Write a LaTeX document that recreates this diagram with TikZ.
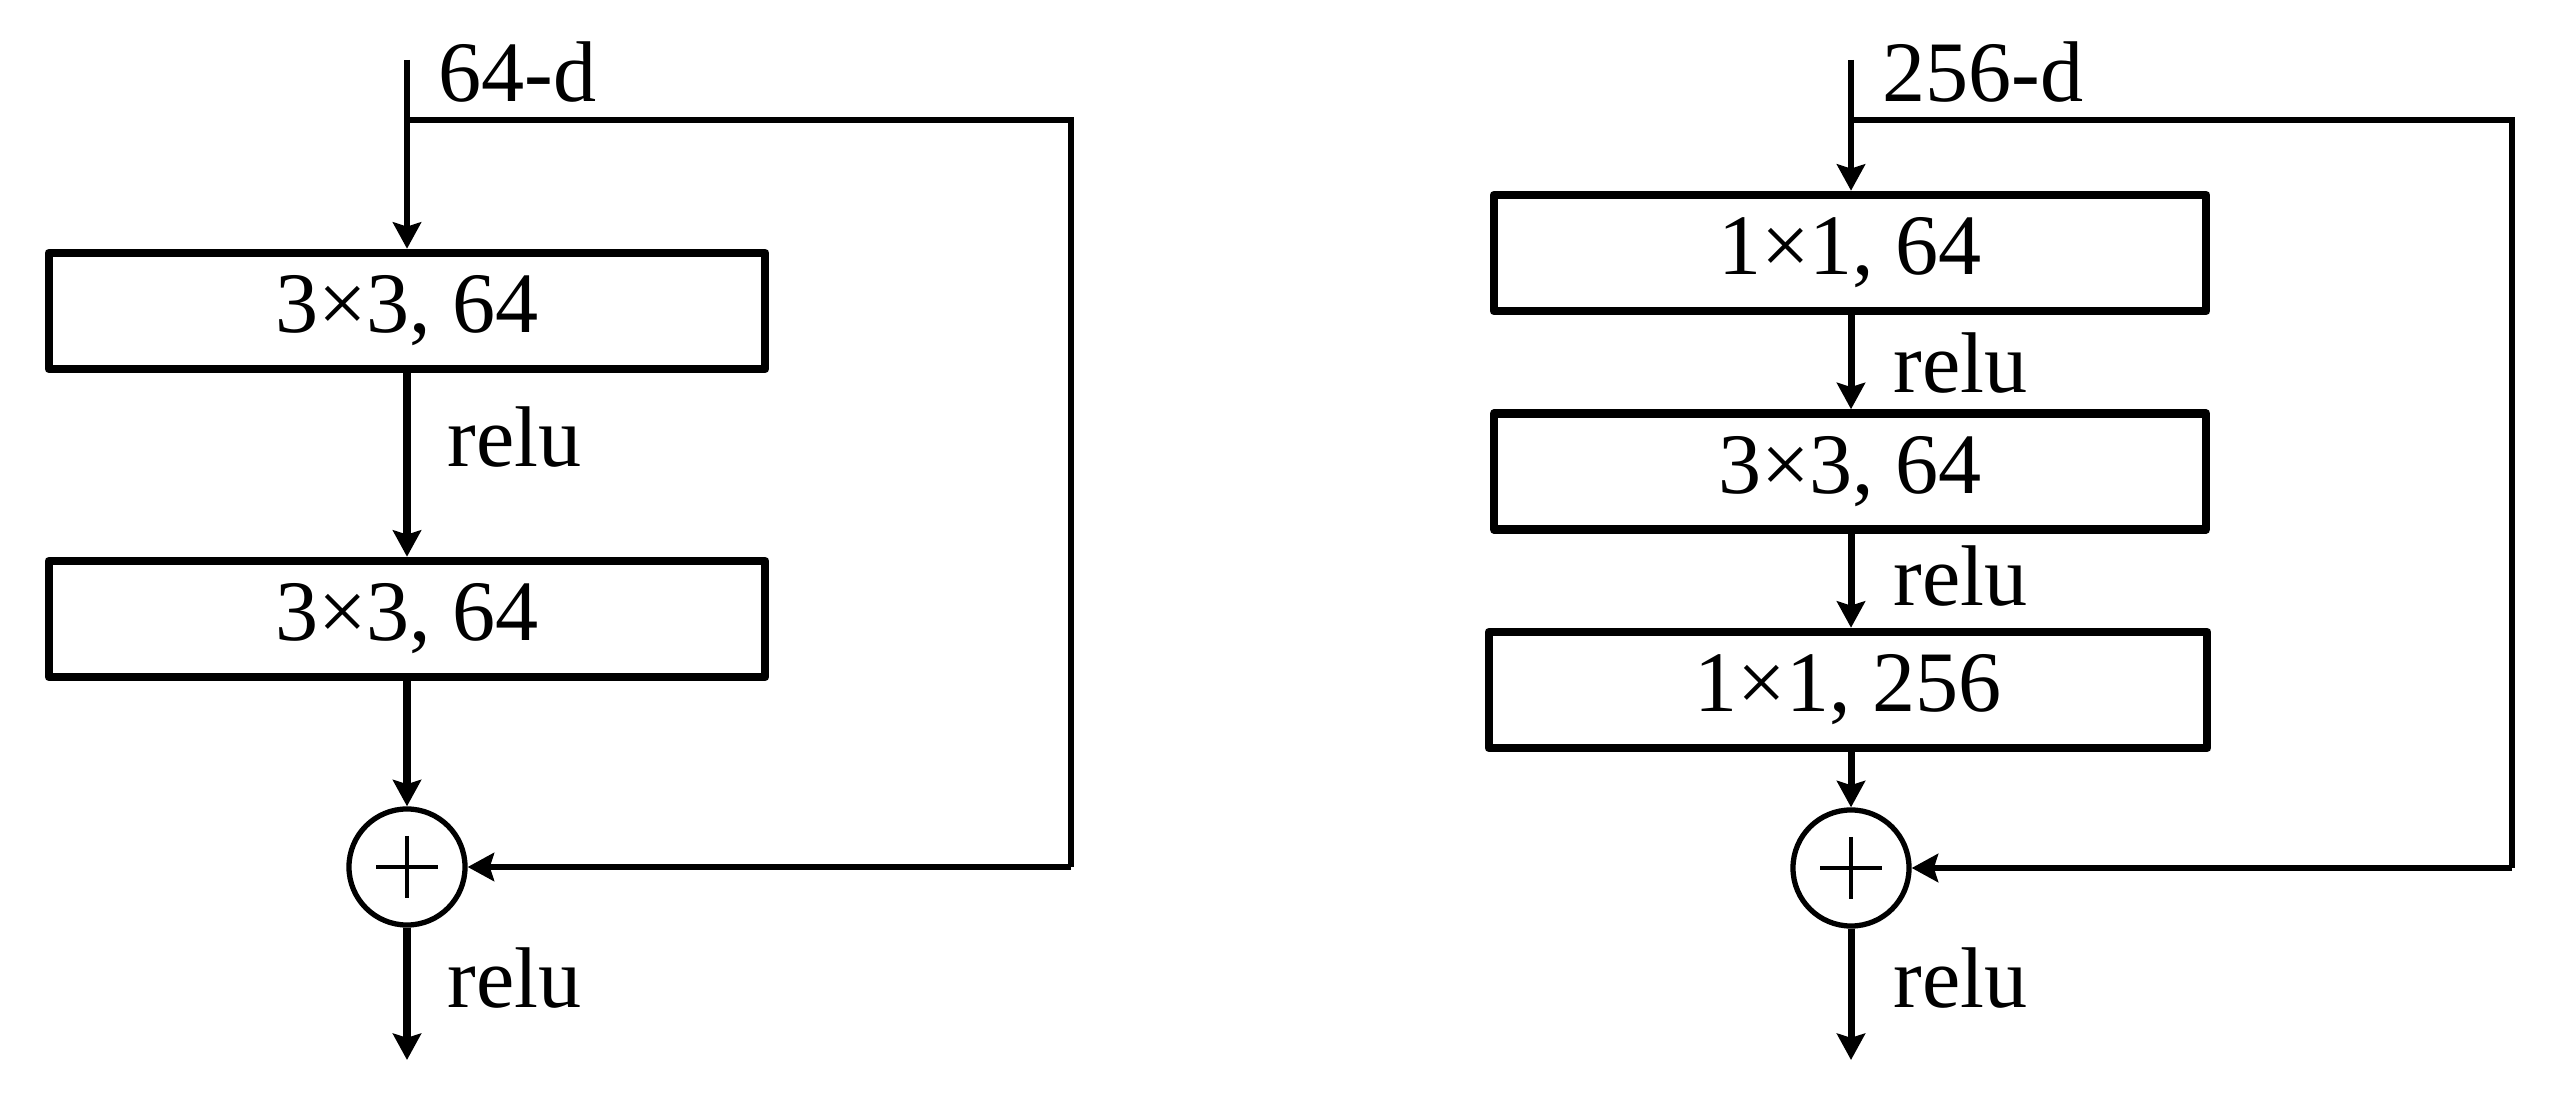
\documentclass[tikz,border=0pt]{standalone}
\usepackage{fontspec}
\setmainfont{Liberation Serif}
\usetikzlibrary{arrows.meta}
\begin{document}
\begin{tikzpicture}[x=0.01cm,y=-0.01cm,
  font=\fontsize{24.5}{29}\selectfont,
  layer/.style={draw,line width=2.4pt,line join=round,rectangle,inner sep=0pt,minimum height=1.16cm},
  sumnode/.style={draw,line width=1.5pt,circle,inner sep=0pt,minimum size=1.16cm},
  flow/.style={line width=2pt,-{Stealth[length=7.5pt,width=8pt,inset=1.2pt]}},
  skip/.style={line width=1.7pt,line join=miter,-{Stealth[length=7.5pt,width=8pt,inset=1.2pt]}},
  lbl/.style={anchor=base west,inner sep=0pt}]
\useasboundingbox (0,0) rectangle (2576,1104);
% ---------- left block ----------
\coordinate (inL) at (407,60);
\coordinate (skL) at (407,120);
\coordinate (trL) at (1071,120);
\coordinate (brL) at (1071,867);
\coordinate (outL) at (407,1060);
\node[layer,minimum width=7.16cm] (l1) at (407,311) {3×3, 64};
\node[layer,minimum width=7.16cm] (l2) at (407,619) {3×3, 64};
\node[sumnode] (sL) at (407,867) {};
\draw[line width=1pt] (sL.center) ++(-31,0) -- ++(62,0);
\draw[line width=1pt] (sL.center) ++(0,-31) -- ++(0,62);
\draw[skip] (inL) -- (l1);
\draw[skip,-] (skL) -- (trL) -- (brL);
\draw[skip] (brL) -- (sL);
\draw[flow] (l1) -- (l2);
\draw[flow] (l2) -- (sL);
\draw[flow] (sL) -- (outL);
\node[lbl] (tL) at (438,102) {64-d};
\node[lbl] (r1L) at (447,467) {relu};
\node[lbl] (r2L) at (447,1007) {relu};
% ---------- right block ----------
\coordinate (inR) at (1851,60);
\coordinate (skR) at (1851,120);
\coordinate (trR) at (2512,120);
\coordinate (brR) at (2512,868);
\coordinate (outR) at (1851,1060);
\node[layer,minimum width=7.12cm] (m1) at (1850,253) {1×1, 64};
\node[layer,minimum width=7.12cm] (m2) at (1850,471.5) {3×3, 64};
\node[layer,minimum width=7.18cm] (m3) at (1848,690) {1×1, 256};
\node[sumnode] (sR) at (1851,868) {};
\draw[line width=1pt] (sR.center) ++(-31,0) -- ++(62,0);
\draw[line width=1pt] (sR.center) ++(0,-31) -- ++(0,62);
\draw[skip] (inR) -- (inR |- m1.north);
\draw[skip,-] (skR) -- (trR) -- (brR);
\draw[skip] (brR) -- (sR);
\draw[flow] (m1.south -| inR) -- (m2.north -| inR);
\draw[flow] (m2.south -| inR) -- (m3.north -| inR);
\draw[flow] (m3.south -| inR) -- (sR);
\draw[flow] (sR) -- (outR);
\node[lbl] (tR) at (1882,102) {256-d};
\node[lbl] (r1R) at (1893,393) {relu};
\node[lbl] (r2R) at (1893,606) {relu};
\node[lbl] (r3R) at (1893,1007) {relu};
\end{tikzpicture}
\end{document}
